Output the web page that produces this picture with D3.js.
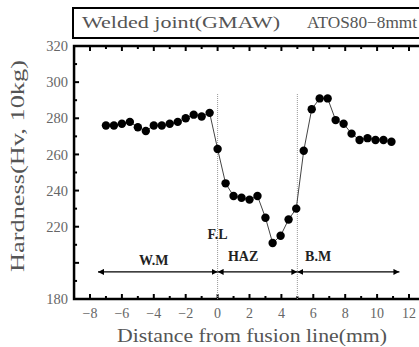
<!DOCTYPE html>
<html>
<head>
<meta charset="utf-8">
<script src="https://cdn.jsdelivr.net/npm/d3@7"></script>
<style>
  html, body { margin: 0; padding: 0; background: #fff; }
  svg { display: block; }
  text { font-family: "Liberation Serif", "DejaVu Serif", serif; }
</style>
</head>
<body>
<div id="chart"></div>
<script>
// distance from fusion line (mm)
const distance = [
  -7, -6.5, -6, -5.5, -5, -4.5, -4, -3.5, -3, -2.5, -2, -1.5, -1, -0.5,
  0, 0.5, 1, 1.5, 2, 2.5, 3, 3.45, 3.95, 4.45, 4.93,
  5.4, 5.9, 6.4, 6.9, 7.4, 7.9, 8.4, 8.9, 9.4, 9.9, 10.4, 10.9
];
// hardness (Hv, 10kg)
const hardness = [
  276, 276, 277, 278, 275, 273, 276, 276, 277, 278, 280, 282, 281, 283,
  263, 244, 237, 236, 235, 237, 225, 211, 215, 224, 230,
  262, 285, 291, 291, 279, 277, 271.5, 268, 269, 268, 268, 267
];
const xTicks = [-8, -6, -4, -2, 0, 2, 4, 6, 8, 10, 12];
const yTicks = [180, 220, 240, 260, 280, 300, 320];
// zones: [label, from, to]
const zones = [["W.M", -7.5, 0], ["HAZ", 0, 5], ["B.M", 5, 11.4]];
const boundaries = [0, 5];

const W = 419, H = 347;
const svg = d3.select("#chart").append("svg").attr("width", W).attr("height", H);

const x = d3.scaleLinear().domain([-8, 12]).range([90, 409]);
const y = d3.scaleLinear().domain([180, 320]).range([299, 46]);
const x0 = x(-9), x1 = x(13), yTop = y(320), yBot = y(180);

// header box
svg.append("rect")
  .attr("x", 73).attr("y", 8).attr("width", 380).attr("height", 30)
  .attr("fill", "#fff").attr("stroke", "#000").attr("stroke-width", 2);
svg.append("text").attr("x", 82).attr("y", 28)
  .attr("textLength", 198).attr("lengthAdjust", "spacingAndGlyphs")
  .style("font-size", "16px").style("fill", "#555")
  .text("Welded joint(GMAW)");
svg.append("text").attr("x", 307).attr("y", 28)
  .attr("textLength", 110).attr("lengthAdjust", "spacingAndGlyphs")
  .style("font-size", "16px").style("fill", "#555")
  .text("ATOS80−8mmt");

// ticks (inward)
const tk = svg.append("g").attr("stroke", "#000").attr("stroke-width", 2);
d3.range(-9, 14).forEach(v => {
  const len = v % 2 === 0 ? 5 : 3;
  tk.append("line").attr("x1", x(v)).attr("x2", x(v)).attr("y1", yBot).attr("y2", yBot - len);
  tk.append("line").attr("x1", x(v)).attr("x2", x(v)).attr("y1", yTop).attr("y2", yTop + len);
});
d3.range(180, 321, 10).forEach(v => {
  const len = v % 20 === 0 ? 5 : 3;
  tk.append("line").attr("x1", x0).attr("x2", x0 + len).attr("y1", y(v)).attr("y2", y(v));
});

// frame
svg.append("path")
  .attr("d", `M${x1},${yTop}H${x0}V${yBot}H${x1}`)
  .attr("fill", "none").attr("stroke", "#000").attr("stroke-width", 2.5);

// tick labels
svg.append("g").selectAll("text").data(xTicks).join("text")
  .attr("x", d => x(d)).attr("y", yBot + 19)
  .attr("text-anchor", "middle")
  .style("font-size", "14px").style("fill", "#666")
  .text(d => d < 0 ? "−" + Math.abs(d) : d);
svg.append("g").selectAll("text").data(yTicks).join("text")
  .attr("x", 68).attr("y", d => y(d)).attr("dy", "0.35em")
  .attr("text-anchor", "end")
  .style("font-size", "14.5px").style("fill", "#666")
  .text(d => d);

// axis titles
svg.append("text")
  .attr("transform", `translate(24,${166}) rotate(-90)`)
  .attr("text-anchor", "middle")
  .attr("textLength", 212).attr("lengthAdjust", "spacingAndGlyphs")
  .style("font-size", "18px").style("fill", "#555")
  .text("Hardness(Hv, 10kg)");
svg.append("text")
  .attr("x", 252).attr("y", 342)
  .attr("text-anchor", "middle")
  .attr("textLength", 270).attr("lengthAdjust", "spacingAndGlyphs")
  .style("font-size", "18px").style("fill", "#555")
  .text("Distance from fusion line(mm)");

// boundaries (dotted)
svg.append("g").selectAll("line").data(boundaries).join("line")
  .attr("x1", d => x(d)).attr("x2", d => x(d))
  .attr("y1", 94).attr("y2", yBot)
  .attr("stroke", "#999").attr("stroke-width", 1).attr("stroke-dasharray", "1,1");

// zone arrows
const defs = svg.append("defs");
defs.append("marker").attr("id", "ah").attr("viewBox", "0 0 10 10")
  .attr("refX", 10).attr("refY", 5).attr("markerWidth", 6).attr("markerHeight", 6)
  .attr("markerUnits", "userSpaceOnUse").attr("orient", "auto-start-reverse")
  .append("path").attr("d", "M0,0L10,5L0,10z").attr("fill", "#000");
const arrowY = y(195);
svg.append("g").selectAll("line").data(zones).join("line")
  .attr("x1", d => x(d[1])).attr("x2", d => x(d[2]))
  .attr("y1", arrowY).attr("y2", arrowY)
  .attr("stroke", "#000").attr("stroke-width", 1.2)
  .attr("marker-start", "url(#ah)").attr("marker-end", "url(#ah)");
const zoneLabelX = { "W.M": -4, "HAZ": 1.6, "B.M": 6.3 };
svg.append("g").selectAll("text").data(zones).join("text")
  .attr("x", d => x(zoneLabelX[d[0]])).attr("y", d => y(d[0] === "W.M" ? 199 : 201))
  .attr("text-anchor", "middle")
  .style("font-size", "14px").style("font-weight", "bold").style("fill", "#222")
  .text(d => d[0]);
svg.append("text").attr("x", x(0)).attr("y", y(213))
  .attr("text-anchor", "middle")
  .style("font-size", "14px").style("font-weight", "bold").style("fill", "#222")
  .text("F.L");

// data
const pts = distance.map((d, i) => ({ x: d, v: hardness[i] }));
svg.append("path").datum(pts)
  .attr("d", d3.line().x(d => x(d.x)).y(d => y(d.v)))
  .attr("fill", "none").attr("stroke", "#444").attr("stroke-width", 1);
svg.append("g").selectAll("circle").data(pts).join("circle")
  .attr("cx", d => x(d.x)).attr("cy", d => y(d.v)).attr("r", 4.2)
  .attr("fill", "#000");
</script>
</body>
</html>
